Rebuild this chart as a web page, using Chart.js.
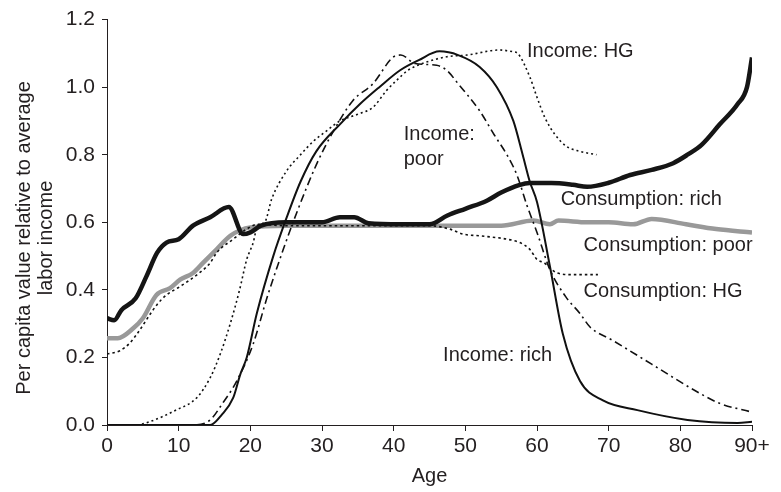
<!DOCTYPE html>
<html lang="en">
<head>
    <meta charset="UTF-8">
    <title>Per capita value by age</title>
    <script src="https://cdn.jsdelivr.net/npm/chart.js"></script>
    <style>
        * { margin: 0; padding: 0; box-sizing: border-box; }
        body { background: #fff; }
        #wrap { width: 781px; height: 492px; }
    </style>
</head>
<body>
    <div id="wrap"><canvas id="ageChart"></canvas></div>

    <script>
        // values, per series (age, value)
        const consRichAge = [0, 1, 2, 4, 5.5, 7, 8.3, 10, 12, 14.4, 17, 19, 20, 21.5, 25, 30, 32.5, 34.5, 36.5, 41, 45, 47.5, 50, 53, 55, 57.5, 59, 62, 65, 67, 70, 73, 76, 79, 81, 83, 85.5, 88, 89.3, 90];
        const consRich = [0.316, 0.31, 0.34, 0.375, 0.44, 0.51, 0.54, 0.55, 0.59, 0.615, 0.645, 0.565, 0.57, 0.59, 0.60, 0.60, 0.615, 0.615, 0.597, 0.594, 0.594, 0.62, 0.64, 0.664, 0.688, 0.71, 0.716, 0.716, 0.711, 0.705, 0.717, 0.74, 0.755, 0.775, 0.80, 0.83, 0.89, 0.95, 1.0, 1.088];

        const consPoorAge = [0, 1.5, 3.7, 5, 6.9, 8.8, 10.2, 12, 13.4, 15.3, 17.2, 20, 25, 30, 35, 40, 45, 50, 55, 59.5, 61.8, 63, 67, 70, 73.4, 76, 80.8, 85, 90];
        const consPoor = [0.257, 0.257, 0.287, 0.316, 0.385, 0.405, 0.43, 0.45, 0.48, 0.52, 0.56, 0.585, 0.59, 0.59, 0.59, 0.59, 0.59, 0.59, 0.59, 0.605, 0.594, 0.605, 0.60, 0.60, 0.594, 0.61, 0.594, 0.58, 0.57];

        const consHGAge = [0, 1.8, 3.2, 4.2, 7, 8.3, 10.2, 12.5, 14.4, 15.3, 17.6, 19.5, 21, 25, 30, 35, 40, 45, 47.8, 49.7, 52, 55.8, 57.6, 59, 60, 61, 62.8, 65, 68.5];
        const consHG = [0.21, 0.22, 0.243, 0.27, 0.357, 0.385, 0.41, 0.444, 0.48, 0.51, 0.55, 0.58, 0.594, 0.59, 0.59, 0.59, 0.59, 0.59, 0.58, 0.565, 0.56, 0.55, 0.54, 0.52, 0.49, 0.48, 0.45, 0.445, 0.445];

        const incHGAge = [0, 4, 6, 9.7, 12.5, 14.4, 15.8, 17.2, 18.5, 19.5, 20.4, 21, 22, 23, 25, 27, 28.8, 30.6, 32.5, 35, 37.1, 39, 40.4, 42, 44, 47.4, 50.2, 54.8, 56.6, 57.3, 59, 60, 61.1, 62.5, 64.1, 66, 68.3];
        const incHG = [0, 0, 0.01, 0.045, 0.08, 0.14, 0.21, 0.30, 0.40, 0.49, 0.54, 0.59, 0.60, 0.67, 0.75, 0.80, 0.84, 0.87, 0.90, 0.92, 0.94, 0.99, 1.02, 1.05, 1.07, 1.09, 1.095, 1.11, 1.105, 1.10, 1.03, 0.97, 0.91, 0.86, 0.825, 0.81, 0.80];

        const incPoorAge = [0, 12, 14.4, 16, 18.1, 20.4, 22.3, 24.6, 26.5, 29.2, 31.6, 34.3, 37.1, 40, 41, 43, 46, 47.4, 49, 52, 54, 55.8, 57.2, 58.6, 60, 61.8, 64, 66, 67.4, 70.6, 76, 82.7, 85.5, 90];
        const incPoor = [0, 0, 0.015, 0.06, 0.13, 0.24, 0.375, 0.52, 0.63, 0.77, 0.87, 0.96, 1.01, 1.09, 1.095, 1.07, 1.065, 1.05, 1.01, 0.93, 0.86, 0.80, 0.74, 0.65, 0.57, 0.46, 0.38, 0.33, 0.29, 0.25, 0.18, 0.094, 0.064, 0.038];

        const incRichAge = [0, 14.4, 16, 17.6, 18.6, 19.5, 20.9, 23.2, 25, 27, 29.2, 32.5, 35.3, 38, 40.9, 43.5, 46.4, 49, 52, 54.4, 56.7, 58, 59, 60, 61.8, 63.6, 66, 69.2, 74, 81, 88, 90];
        const incRich = [0, 0, 0.03, 0.08, 0.15, 0.2, 0.33, 0.50, 0.61, 0.72, 0.81, 0.89, 0.95, 1.0, 1.05, 1.08, 1.106, 1.095, 1.06, 1.0, 0.90, 0.80, 0.72, 0.66, 0.47, 0.27, 0.13, 0.073, 0.044, 0.015, 0.006, 0.01];

        // in-plot labels: text, age, value (left edge, vertical middle)
        const seriesLabels = [
            ['Income: HG', 58.6, 1.106],
            ['Income:', 41.4, 0.86],
            ['poor', 41.4, 0.786],
            ['Consumption: rich', 63.3, 0.667],
            ['Consumption: poor', 66.5, 0.532],
            ['Consumption: HG', 66.5, 0.396],
            ['Income: rich', 46.9, 0.205]
        ];
        const yTitle = ['Per capita value relative to average', 'labor income'];

        const ink = '#231f20';
        const font = "'Liberation Sans', Arial, sans-serif";

        function pts(xs, ys) {
            return xs.map((x, i) => ({ x: x, y: ys[i] }));
        }

        function line(label, xs, ys, color, width, dash) {
            return {
                label: label,
                data: pts(xs, ys),
                borderColor: color,
                borderWidth: width,
                borderDash: dash,
                pointRadius: 0,
                fill: false,
                cubicInterpolationMode: 'monotone',
                borderCapStyle: 'butt'
            };
        }

        const labelPlugin = {
            id: 'labels',
            afterDraw(chart) {
                const ctx = chart.ctx;
                const xs = chart.scales.x, ys = chart.scales.y;
                ctx.save();
                ctx.fillStyle = ink;
                ctx.font = '20px ' + font;
                ctx.textAlign = 'left';
                ctx.textBaseline = 'middle';
                seriesLabels.forEach(l => {
                    ctx.fillText(l[0], xs.getPixelForValue(l[1]), ys.getPixelForValue(l[2]));
                });
                // y axis title, two rotated lines
                ctx.textAlign = 'center';
                ctx.translate(24, 238);
                ctx.rotate(-Math.PI / 2);
                ctx.fillText(yTitle[0], 0, 0);
                ctx.fillText(yTitle[1], 0, 22);
                ctx.restore();
            }
        };

        const ageCtx = document.getElementById('ageChart').getContext('2d');
        const ageChart = new Chart(ageCtx, {
            type: 'line',
            data: {
                datasets: [
                    line('Income: rich', incRichAge, incRich, '#111', 2, []),
                    line('Income: poor', incPoorAge, incPoor, '#111', 1.6, [8, 4, 2, 4]),
                    line('Income: HG', incHGAge, incHG, '#111', 1.6, [2, 3]),
                    line('Consumption: HG', consHGAge, consHG, '#111', 1.6, [2.5, 3]),
                    line('Consumption: rich', consRichAge, consRich, '#151515', 4.5, []),
                    line('Consumption: poor', consPoorAge, consPoor, '#999', 4.5, [])
                ]
            },
            options: {
                responsive: true,
                maintainAspectRatio: false,
                animation: false,
                layout: { padding: { top: 15, right: 29, left: 0, bottom: 0 } },
                plugins: { legend: { display: false }, tooltip: { enabled: false } },
                scales: {
                    x: {
                        type: 'linear',
                        min: 0,
                        max: 90,
                        afterFit: s => { s.height = 67; },
                        ticks: {
                            stepSize: 10,
                            padding: 3,
                            color: ink,
                            font: { family: font, size: 21 },
                            callback: v => v === 90 ? '90+' : v
                        },
                        grid: { drawOnChartArea: false, tickLength: 6, color: ink },
                        border: { color: ink, width: 1 },
                        title: {
                            display: true,
                            text: 'Age',
                            color: ink,
                            font: { family: font, size: 20 },
                            padding: { top: 0, bottom: 4 }
                        }
                    },
                    y: {
                        min: 0,
                        max: 1.2,
                        afterFit: s => { s.width = 107; },
                        ticks: {
                            stepSize: 0.2,
                            padding: 7,
                            color: ink,
                            font: { family: font, size: 21 },
                            callback: v => v.toFixed(1)
                        },
                        grid: { drawOnChartArea: false, tickLength: 5, color: ink },
                        border: { color: ink, width: 1 }
                    }
                }
            },
            plugins: [labelPlugin]
        });
    </script>
</body>
</html>
